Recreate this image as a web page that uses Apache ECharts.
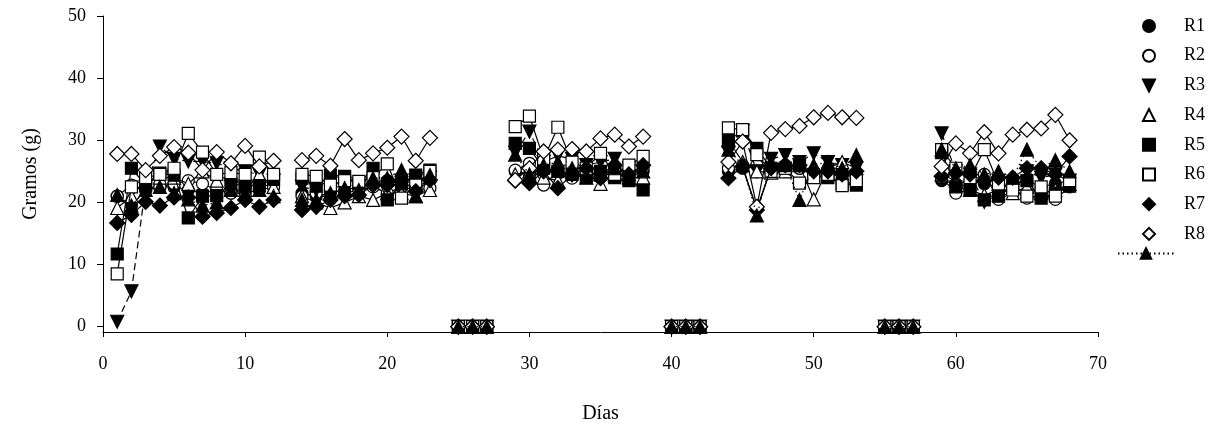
<!DOCTYPE html>
<html>
<head>
<meta charset="utf-8">
<script src="https://cdn.jsdelivr.net/npm/echarts@6/dist/echarts.min.js"></script>
<style>html,body{margin:0;padding:0;background:#fff}#c{width:1219px;height:429px}</style>
</head>
<body>
<div id="c"></div>
<script>
// Days 1..68 (null = no measurement)
const days = [];
for (let d = 1; d <= 68; d++) days.push(d);

const xTicks = [0, 10, 20, 30, 40, 50, 60, 70];
const yTicks = [0, 10, 20, 30, 40, 50];
const seriesNames = ['R1', 'R2', 'R3', 'R4', 'R5', 'R6', 'R7', 'R8', 'R9'];

const N = null;
// each: group A (1-12), -, B (14-23), -, zeros (25-27), -, C (29-38), -, zeros (40-42), -, D (44-53), -, zeros (55-57), -, E (59-68)
const R1 = [21.0,19.5,22.0,22.5,22.5,22.0,21.5,22.0,21.5,21.5,22.0,22.5, N,
  21.5,21.0,21.5,22.0,22.5,23.0,23.5,23.0,22.5,23.5, N, 0,0,0, N,
  25.0,24.5,25.5,25.0,24.5,25.5,25.0,25.5,24.5,25.0, N, 0,0,0, N,
  25.0,25.5,19.0,25.5,25.0,25.5,25.0,24.5,25.0,24.5, N, 0,0,0, N,
  23.5,23.0,23.5,23.0,22.5,23.0,23.5,22.5,23.0,23.5];
const R2 = [21.0,22.8,22.0,22.5,23.0,23.5,23.0,22.0,21.5,22.5,23.0,22.5, N,
  21.0,21.5,20.5,21.5,22.0,22.5,21.5,22.5,22.0,22.3, N, 0,0,0, N,
  25.2,26.3,22.8,25.0,23.9,24.5,24.0,25.5,24.5,25.5, N, 0,0,0, N,
  25.5,26.0,26.0,25.5,26.0,25.5,24.5,25.0,24.5,24.0, N, 0,0,0, N,
  24.0,21.5,22.0,24.5,20.5,22.0,20.7,21.0,20.5,22.5];
const R3 = [0.8,5.7,22.5,29.0,27.0,26.6,26.6,26.3,25.5,25.0,24.5,23.5, N,
  22.5,22.0,22.0,23.0,22.5,23.0,22.5,23.5,23.5,24.0, N, 0,0,0, N,
  28.0,31.4,26.5,27.5,27.0,26.0,26.5,27.0,25.5,25.0, N, 0,0,0, N,
  28.0,31.5,25.0,27.0,27.6,26.5,27.9,26.5,26.0,25.5, N, 0,0,0, N,
  31.1,25.0,24.5,20.1,23.5,23.0,25.0,24.0,24.5,23.5];
const R4 = [19.1,21.0,23.5,24.0,24.0,23.0,25.0,23.5,24.5,22.0,24.5,22.5, N,
  21.0,20.0,19.1,20.0,21.0,20.4,21.5,21.5,21.0,22.0, N, 0,0,0, N,
  24.5,25.0,24.0,23.5,25.0,24.0,23.0,24.5,24.0,24.0, N, 0,0,0, N,
  30.0,26.5,25.0,24.8,25.0,26.0,20.5,25.5,26.5,25.5, N, 0,0,0, N,
  24.5,23.5,22.0,21.2,22.0,21.5,22.5,21.5,22.0,23.0];
const R5 = [11.7,25.5,22.8,24.7,24.4,17.5,21.0,21.1,23.0,22.7,22.7,23.7, N,
  23.9,22.6,24.4,24.2,23.0,25.5,20.4,23.0,24.4,25.2, N, 0,0,0, N,
  29.5,28.7,25.5,25.0,24.5,24.0,25.0,24.0,23.5,22.0, N, 0,0,0, N,
  30.0,31.5,28.7,25.5,25.5,26.0,24.2,24.0,23.0,22.8, N, 0,0,0, N,
  28.0,22.5,22.0,20.4,21.0,23.0,23.5,20.7,21.5,22.6];
const R6 = [8.5,22.5,24.0,24.5,25.5,31.1,28.1,24.5,24.8,24.5,27.3,24.5, N,
  24.5,24.2,22.8,23.5,23.4,24.0,26.2,20.7,22.8,25.0, N, 0,0,0, N,
  32.2,33.9,27.0,32.1,26.5,25.5,27.9,24.5,26.0,27.4, N, 0,0,0, N,
  32.0,31.7,27.7,25.0,25.5,23.1,24.0,24.5,22.7,23.5, N, 0,0,0, N,
  28.5,25.5,24.0,28.5,23.0,22.0,21.0,22.5,21.0,23.5];
const R7 = [16.7,18.0,20.1,19.5,20.8,20.8,17.7,18.3,19.1,20.4,19.3,20.4, N,
  18.8,19.3,20.4,21.0,21.2,22.8,22.8,23.6,21.8,23.6, N, 0,0,0, N,
  23.5,23.1,25.0,22.3,24.5,25.5,23.9,26.0,24.5,26.0, N, 0,0,0, N,
  23.9,25.8,18.8,25.5,26.0,26.0,25.0,25.0,24.5,25.0, N, 0,0,0, N,
  24.2,24.7,24.5,23.5,24.0,24.0,25.5,25.5,24.5,27.4];
const R8 = [27.8,27.8,25.2,27.5,28.9,28.0,25.2,28.1,26.3,29.1,25.8,26.7, N,
  26.8,27.5,25.9,30.2,26.8,27.9,28.8,30.6,26.7,30.4, N, 0,0,0, N,
  23.6,25.5,28.2,28.5,28.6,28.2,30.3,30.9,29.0,30.6, N, 0,0,0, N,
  26.5,29.8,19.3,31.2,31.8,32.3,33.7,34.4,33.7,33.6, N, 0,0,0, N,
  25.8,29.5,27.9,31.3,27.9,30.9,31.7,31.9,34.1,30.0];
const R9 = [21.2,19.5,22.0,22.5,21.5,20.5,19.5,20.0,22.0,21.5,22.0,21.0, N,
  20.4,20.4,21.5,22.3,22.0,23.9,23.9,25.2,21.0,24.4, N, 0,0,0, N,
  27.7,24.5,26.0,26.5,25.5,26.0,25.0,25.5,24.5,25.0, N, 0,0,0, N,
  28.5,26.0,17.9,26.5,26.0,20.4,26.0,26.5,25.5,27.6, N, 0,0,0, N,
  28.5,25.5,26.0,24.5,25.0,24.0,28.5,25.5,26.8,25.0];

const values = [R1, R2, R3, R4, R5, R6, R7, R8, R9];

const FONT = 'Liberation Serif';
const downTri = 'path://M0,0 L10,0 L5,10 Z';
const diamondIcon = 'path://M5,0 L10,5 L5,10 L0,5 Z';
const styles = [
  { symbol: 'circle', size: 12, fill: '#000', line: 'solid', legendIcon: 'circle' },
  { symbol: 'circle', size: 12, fill: '#fff', line: 'solid', legendIcon: 'circle' },
  { symbol: downTri, size: 13, fill: '#000', line: [7, 4], legendIcon: downTri },
  { symbol: 'triangle', size: 13, fill: '#fff', line: 'solid', legendIcon: 'triangle' },
  { symbol: 'rect', size: 12, fill: '#000', line: 'solid', legendIcon: 'rect' },
  { symbol: 'rect', size: 12, fill: '#fff', line: 'solid', legendIcon: 'rect' },
  { symbol: 'diamond', size: 15, fill: '#000', line: 'solid', legendIcon: diamondIcon },
  { symbol: 'diamond', size: 15, fill: '#fff', line: 'solid', legendIcon: diamondIcon },
  { symbol: 'triangle', size: 13, fill: '#000', line: [1.5, 3], legendIcon: 'triangle' }
];

const series = seriesNames.map((name, i) => ({
  name: name,
  type: 'line',
  data: days.map((d, k) => [d, values[i][k]]),
  symbol: styles[i].symbol,
  symbolSize: styles[i].size,
  showAllSymbol: true,
  connectNulls: false,
  clip: false,
  lineStyle: { color: '#000', width: 1.2, type: styles[i].line },
  itemStyle: { color: styles[i].fill, borderColor: '#000', borderWidth: 1.2, opacity: 1 },
  emphasis: { disabled: true },
  animation: false,
  z: 2 + i
}));

const chart = echarts.init(document.getElementById('c'), null, { renderer: 'canvas' });
chart.setOption({
  backgroundColor: '#fff',
  animation: false,
  textStyle: { fontFamily: FONT, color: '#000' },
  grid: { left: 103, right: 121, top: 16, bottom: 96, containLabel: false },
  xAxis: {
    type: 'value', min: 0, max: 70, interval: 10,
    name: 'Días', nameLocation: 'middle', nameGap: 72,
    nameTextStyle: { fontFamily: FONT, fontSize: 20, color: '#000' },
    axisLine: { show: true, onZero: false, lineStyle: { color: '#000', width: 1 } },
    axisTick: { show: true, inside: false, length: 5, lineStyle: { color: '#000' } },
    axisLabel: { fontFamily: FONT, fontSize: 18, color: '#000', margin: 23,
      formatter: v => xTicks.includes(v) ? String(v) : '' },
    splitLine: { show: false }
  },
  yAxis: {
    type: 'value', min: -0.85, max: 50,
    name: 'Gramos (g)', nameLocation: 'middle', nameGap: 62, nameRotate: 90,
    nameTextStyle: { fontFamily: FONT, fontSize: 20, color: '#000' },
    axisLine: { show: true, onZero: false, lineStyle: { color: '#000', width: 1 } },
    axisTick: { show: true, inside: false, length: 6, customValues: yTicks, lineStyle: { color: '#000' } },
    axisLabel: { fontFamily: FONT, fontSize: 18, color: '#000', margin: 17, customValues: yTicks },
    splitLine: { show: false }
  },
  legend: [
    {
      data: seriesNames.slice(0, 8).map((n, i) => ({ name: n, icon: styles[i].legendIcon })),
      orient: 'vertical', left: 1137, top: 12,
      itemWidth: 12, itemHeight: 12, itemGap: 11.7,
      textStyle: { fontFamily: FONT, fontSize: 18, color: '#000', padding: [0, 0, 0, 24] },
      selectedMode: false
    },
    {
      data: ['R9'],
      orient: 'vertical', left: 1112, top: 242,
      itemWidth: 56, itemHeight: 13,
      formatter: () => '',
      textStyle: { fontSize: 1 },
      selectedMode: false
    }
  ],
  series: series
});
</script>
</body>
</html>
